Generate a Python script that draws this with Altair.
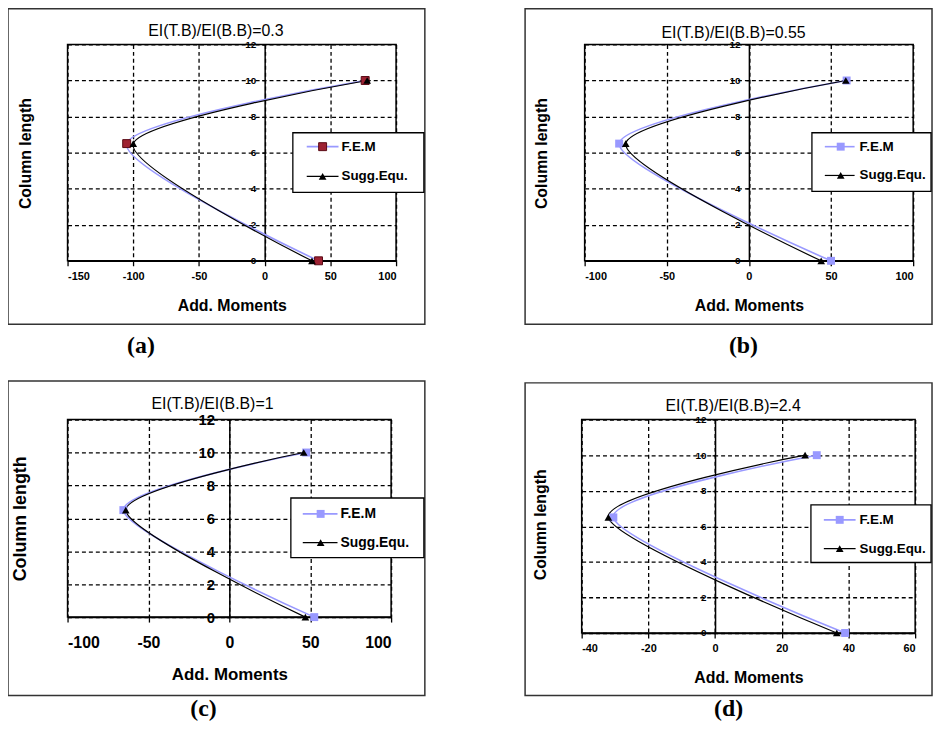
import altair as alt
import pandas as pd

# ---------------- data ----------------
heights = [0, 6.5, 10]
series = ["F.E.M", "Sugg.Equ."]
titles = ["EI(T.B)/EI(B.B)=0.3", "EI(T.B)/EI(B.B)=0.55",
          "EI(T.B)/EI(B.B)=1", "EI(T.B)/EI(B.B)=2.4"]
panel_labels = ["(a)", "(b)", "(c)", "(d)"]
fem_a = [41, -105, 76.5]
sugg_a = [36, -100, 78]
fem_b = [50, -79, 59.5]
sugg_b = [44, -75, 59]
fem_c = [52.5, -65.5, 47.5]
sugg_c = [47, -64, 46]
fem_d = [39, -30.5, 30.5]
sugg_d = [36.5, -32, 27]
x_domains = [[-150, 100], [-100, 100], [-100, 100], [-40, 60]]
x_steps = [50, 50, 50, 20]
y_ticks = [0, 2, 4, 6, 8, 10, 12]
x_title = "Add. Moments"
y_title = "Column length"

FONT = "Liberation Sans"
FEM_COLOR = "#9999FF"

# ---------------- layout (pixels, relative to each plot area) ----------------
layouts = [
    dict(w=331, h=218, box=(-60, 360, -36, 282), leg=(227, 359, 89, 149),
         leg_line=(241, 273), leg_mark=257, leg_text=276, leg_y=(103, 133),
         title=(149.5, -13), ytitle=(-42, 110), lab=(74, 304), big=False, red=True),
    dict(w=331, h=218, box=(-60, 350, -36, 282), leg=(229, 349, 89, 148),
         leg_line=(242, 272), leg_mark=258, leg_text=277, leg_y=(103, 132),
         title=(150, -11), ytitle=(-43, 110), lab=(160, 304), big=False, red=False),
    dict(w=326, h=199, box=(-60, 360, -39, 278), leg=(225, 359, 79, 139),
         leg_line=(237, 272), leg_mark=255, leg_text=275, leg_y=(95, 124),
         title=(146, -16), ytitle=(-47, 100), lab=(137, 292), big=True, red=False),
    dict(w=336, h=215, box=(-57, 353, -37, 278), leg=(231, 352, 86, 144),
         leg_line=(244, 276), leg_mark=260, leg_text=280, leg_y=(101, 130),
         title=(152.6, -14), ytitle=(-41, 106), lab=(148, 292), big=False, red=False),
]


def one(text):
    return pd.DataFrame({"t": [text]})


def panel(i, fem, sugg):
    L = layouts[i]
    w, h = L["w"], L["h"]
    dom = x_domains[i]
    step = x_steps[i]
    xticks = list(range(dom[0], dom[1] + 1, step))
    zero_px = (0 - dom[0]) / (dom[1] - dom[0]) * w
    big = L["big"]

    xenc = alt.X(
        "m:Q",
        scale=alt.Scale(domain=dom, nice=False, zero=False),
        axis=alt.Axis(
            values=xticks, title=x_title, labelExpr="'' + datum.value",
            grid=True, gridDash=[4, 3], gridColor="black", gridWidth=1.3, gridOpacity=1,
            domainColor="black", domainWidth=1.5, tickColor="black", tickWidth=1.3,
            tickSize=5, labelFont=FONT, labelFontWeight="bold",
            labelFontSize=16 if big else 11, labelColor="black",
            labelPadding=13 if big else 5,
            titleFont=FONT, titleFontWeight="bold", titleFontSize=17 if big else 16,
            titleColor="black", titlePadding=16,
        ),
    )
    yenc = alt.Y(
        "h:Q",
        scale=alt.Scale(domain=[0, 12], nice=False),
        axis=alt.Axis(
            values=y_ticks, title=None, offset=-zero_px, labelExpr="'' + datum.value",
            grid=True, gridDash=[4, 3], gridColor="black", gridWidth=1.3, gridOpacity=1,
            domainColor="black", domainWidth=1.5, tickColor="black", tickWidth=1.3,
            tickSize=3, labelFont=FONT, labelFontWeight="bold",
            labelFontSize=15 if big else 10, labelColor="black",
            labelPadding=12 if big else 6,
        ),
    )

    df_fem = pd.DataFrame({"h": heights, "m": fem, "s": series[0]})
    df_sugg = pd.DataFrame({"h": heights, "m": sugg, "s": series[1]})

    if L["red"]:
        fem_pt = dict(shape="square", filled=True, size=64, fill="#9E2233",
                      stroke="#5A0A14", strokeWidth=1, opacity=1)
    else:
        fem_pt = dict(shape="square", filled=True, size=64, color=FEM_COLOR, opacity=1)
    sugg_pt = dict(shape="triangle-up", filled=True, size=60, color="black", opacity=1)

    bx = L["box"]
    box = alt.Chart(one("box")).mark_rect(
        filled=False, stroke="#333333", strokeWidth=1.5
    ).encode(x=alt.value(bx[0]), x2=alt.value(bx[1]), y=alt.value(bx[2]), y2=alt.value(bx[3]))

    line_fem = alt.Chart(df_fem).mark_line(
        interpolate="cardinal", tension=0.2, color=FEM_COLOR, strokeWidth=1.6
    ).encode(x=xenc, y=yenc, order=alt.Order("h:Q"))
    line_sugg = alt.Chart(df_sugg).mark_line(
        interpolate="cardinal", tension=0.2, color="black", strokeWidth=1.2
    ).encode(x=xenc, y=yenc, order=alt.Order("h:Q"))
    pts_fem = alt.Chart(df_fem).mark_point(**fem_pt).encode(x=xenc, y=yenc)
    pts_sugg = alt.Chart(df_sugg).mark_point(**sugg_pt).encode(x=xenc, y=yenc)

    # legend (drawn inside the panel like the Excel legend box)
    lg = L["leg"]
    leg_box = alt.Chart(one("legend")).mark_rect(
        fill="white", stroke="black", strokeWidth=1.3
    ).encode(x=alt.value(lg[0]), x2=alt.value(lg[1]), y=alt.value(lg[2]), y2=alt.value(lg[3]))
    layers = [box, line_fem, line_sugg, pts_fem, pts_sugg, leg_box]
    leg_styles = [(FEM_COLOR, 1.6, fem_pt), ("black", 1.2, sugg_pt)]
    for k, name in enumerate(series):
        ly = L["leg_y"][k]
        col, sw, pt = leg_styles[k]
        layers.append(alt.Chart(one(name)).mark_rule(color=col, strokeWidth=sw).encode(
            x=alt.value(L["leg_line"][0]), x2=alt.value(L["leg_line"][1]), y=alt.value(ly)))
        layers.append(alt.Chart(one(name)).mark_point(**pt).encode(
            x=alt.value(L["leg_mark"]), y=alt.value(ly)))
        layers.append(alt.Chart(one(name)).mark_text(
            align="left", baseline="middle", font=FONT, fontWeight="bold",
            fontSize=14 if big else 13.5, color="black"
        ).encode(x=alt.value(L["leg_text"]), y=alt.value(ly), text="t:N"))

    title = alt.Chart(one(titles[i])).mark_text(
        align="center", baseline="middle", font=FONT, fontSize=16, color="black"
    ).encode(x=alt.value(L["title"][0]), y=alt.value(L["title"][1]), text="t:N")
    ytitle = alt.Chart(one(y_title)).mark_text(
        angle=270, align="center", baseline="middle", font=FONT, fontWeight="bold",
        fontSize=18 if big else 16, color="black"
    ).encode(x=alt.value(L["ytitle"][0]), y=alt.value(L["ytitle"][1]), text="t:N")
    plabel = alt.Chart(one(panel_labels[i])).mark_text(
        align="center", baseline="middle", font="Liberation Serif", fontWeight="bold",
        fontSize=24, color="black"
    ).encode(x=alt.value(L["lab"][0]), y=alt.value(L["lab"][1]), text="t:N")
    layers += [title, ytitle, plabel]

    return alt.layer(*layers).properties(width=w, height=h)


pa = panel(0, fem_a, sugg_a)
pb = panel(1, fem_b, sugg_b)
pc = panel(2, fem_c, sugg_c)
pd_ = panel(3, fem_d, sugg_d)

row1 = alt.hconcat(pa, pb, spacing=97)
row2 = alt.hconcat(pc, pd_, spacing=97)
chart = alt.vconcat(row1, row2, spacing=20).properties(
    padding={"left": -2, "top": -4, "right": 0, "bottom": 0}, background="white"
).configure_view(stroke="black", strokeWidth=1.5)

chart.save("out.html", embed_options={"renderer": "svg", "actions": False})
